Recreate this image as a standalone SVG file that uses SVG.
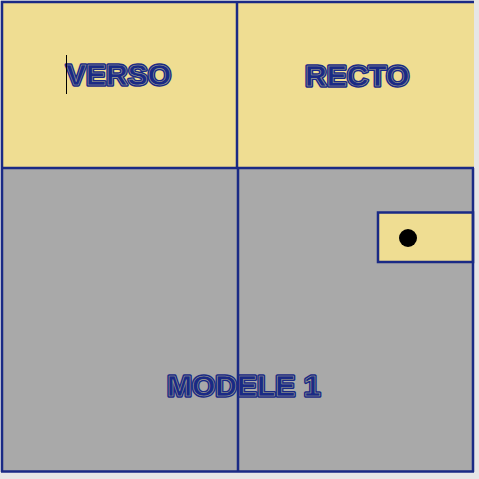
<svg xmlns="http://www.w3.org/2000/svg" width="479" height="479" viewBox="0 0 479 479">
<style>
.ln{stroke:#1a2a85;stroke-width:2.5;fill:none}
.t1{font-family:"Liberation Sans",Arial,sans-serif;font-weight:bold;font-size:30px;fill:#1a2a85;stroke:#1a2a85;stroke-width:3.5;stroke-linejoin:round}
.t2{font-family:"Liberation Sans",Arial,sans-serif;font-weight:bold;font-size:30px;fill:#1a2a85;stroke:#c8c090;stroke-width:0.6;stroke-opacity:0.8;stroke-linejoin:round}
</style>
<rect x="0" y="0" width="479" height="479" fill="#e6e6e6"/>
<g id="verso">
<rect x="2" y="2" width="235" height="166" fill="#efdd92"/>
<text class="t1" x="66" y="85">VERSO</text>
<text class="t2" x="66" y="85">VERSO</text>
<line x1="66.5" y1="55" x2="66.5" y2="94" stroke="#000" stroke-width="1"/>
</g>
<g id="recto">
<rect x="237" y="2" width="237" height="166" fill="#efdd92"/>
<text class="t1" x="305" y="86">RECTO</text>
<text class="t2" x="305" y="86">RECTO</text>
</g>
<g id="modele">
<rect x="2" y="168" width="471" height="303" fill="#a9a9a9"/>
<text class="t1" x="167" y="396">MODELE 1</text>
<text class="t2" x="167" y="396">MODELE 1</text>
</g>
<g id="tab">
<rect x="378" y="212.5" width="95" height="49.5" fill="#efdd92" stroke="#1a2a85" stroke-width="2.5"/>
<circle cx="408" cy="238" r="9" fill="#000"/>
</g>
<g id="connectors">
<line class="ln" x1="1" y1="2" x2="474" y2="2"/>
<line class="ln" x1="2" y1="1" x2="2" y2="472"/>
<line class="ln" x1="1" y1="471.5" x2="474" y2="471.5"/>
<line class="ln" x1="473" y1="168" x2="473" y2="472"/>
<line class="ln" x1="2" y1="168" x2="474" y2="168"/>
<line class="ln" x1="237" y1="2" x2="237" y2="168"/>
<line class="ln" x1="238" y1="168" x2="238" y2="471"/>
</g>
</svg>
